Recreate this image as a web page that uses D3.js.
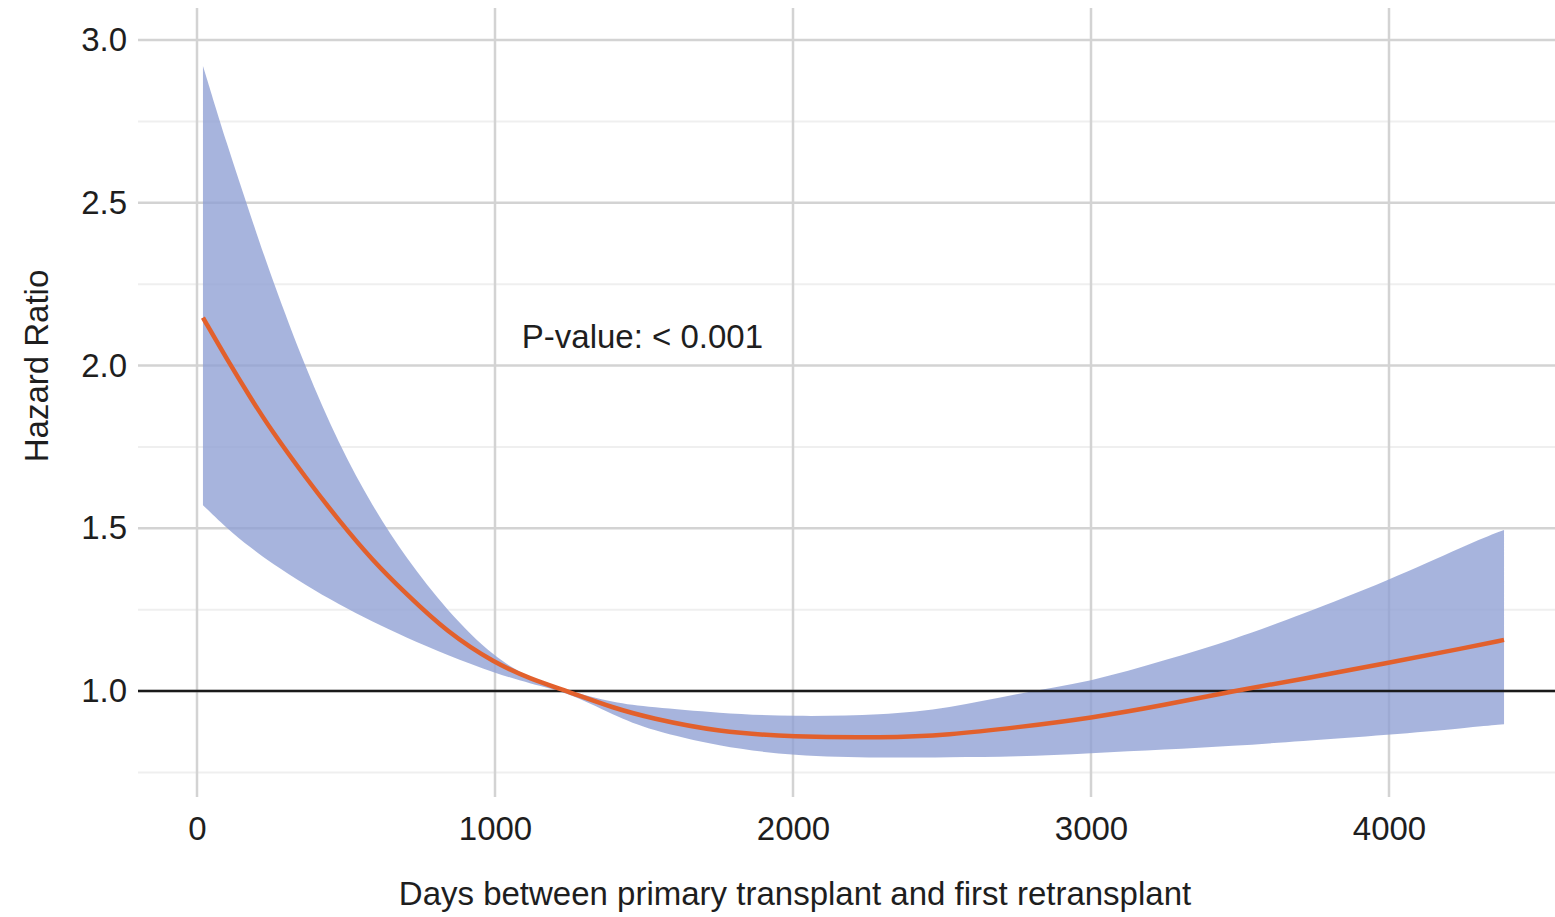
<!DOCTYPE html>
<html>
<head>
<meta charset="utf-8">
<script src="https://cdn.jsdelivr.net/npm/d3@7"></script>
<style>
  html, body { margin: 0; padding: 0; background: #fff; }
  text { font-family: "Liberation Sans", Arial, sans-serif; fill: #1e1e1e; }
</style>
</head>
<body>
<div id="chart"></div>
<script>
// days since primary transplant
var days    = [20, 100, 180, 250, 365, 475, 590, 700, 840, 1000, 1120, 1240, 1400, 1520, 1750, 2000, 2300, 2525, 2750, 3000, 3250, 3475, 3700, 4000, 4260, 4386];
var hrMean  = [2.147, 2.02, 1.90, 1.80, 1.655, 1.525, 1.40, 1.30, 1.18, 1.085, 1.037, 1.0, 0.947, 0.917, 0.874, 0.859, 0.856, 0.865, 0.888, 0.917, 0.957, 1.0, 1.035, 1.087, 1.133, 1.157];
var hrUpper = [2.92, 2.68, 2.46, 2.27, 1.99, 1.76, 1.565, 1.41, 1.245, 1.10, 1.04, 1.003, 0.963, 0.951, 0.932, 0.921, 0.926, 0.947, 0.993, 1.028, 1.095, 1.157, 1.233, 1.34, 1.449, 1.495];
var hrLower = [1.571, 1.50, 1.44, 1.393, 1.325, 1.267, 1.212, 1.165, 1.11, 1.055, 1.022, 0.997, 0.925, 0.88, 0.83, 0.80, 0.794, 0.797, 0.798, 0.809, 0.82, 0.831, 0.846, 0.865, 0.887, 0.898];

var xTicks = [0, 1000, 2000, 3000, 4000];
var yTicks = [1.0, 1.5, 2.0, 2.5, 3.0];
var yMinor = [0.75, 1.25, 1.75, 2.25, 2.75];
var refValue = 1.0;
var pLabel = "P-value: < 0.001";
var xTitle = "Days between primary transplant and first retransplant";
var yTitle = "Hazard Ratio";

var drawChart = function() {
    const width = 1555, height = 917;
    const left = 138, right = 1555, top = 8, bottom = 797;
    const fontSize = 33;

    var svg = d3.select("#chart").append("svg")
        .attr("width", width)
        .attr("height", height);

    var x = d3.scaleLinear().domain([0, 4000]).range([197, 1389]);
    var y = d3.scaleLinear().domain([1, 3]).range([691, 40]);

    var data = days.map(function(d, i) {
        return { day: d, mean: hrMean[i], lo: hrLower[i], hi: hrUpper[i] };
    });

    // minor grid
    svg.append("g").selectAll("line")
        .data(yMinor)
        .join("line")
        .attr("x1", left).attr("x2", right)
        .attr("y1", d => y(d)).attr("y2", d => y(d))
        .attr("stroke", "#efefef")
        .attr("stroke-width", 2);

    // major grid
    svg.append("g").selectAll("line")
        .data(yTicks)
        .join("line")
        .attr("x1", left).attr("x2", right)
        .attr("y1", d => y(d)).attr("y2", d => y(d))
        .attr("stroke", "#d3d3d3")
        .attr("stroke-width", 2.5);

    svg.append("g").selectAll("line")
        .data(xTicks)
        .join("line")
        .attr("x1", d => x(d)).attr("x2", d => x(d))
        .attr("y1", top).attr("y2", bottom)
        .attr("stroke", "#d3d3d3")
        .attr("stroke-width", 2.5);

    // confidence band
    var band = d3.area()
        .x(d => x(d.day))
        .y0(d => y(d.lo))
        .y1(d => y(d.hi))
        .curve(d3.curveBasis);

    svg.append("path")
        .datum(data)
        .attr("d", band)
        .attr("fill", "#8e9fd4")
        .attr("fill-opacity", 0.78);

    // reference line at HR = 1
    svg.append("line")
        .attr("x1", left).attr("x2", right)
        .attr("y1", y(refValue)).attr("y2", y(refValue))
        .attr("stroke", "#1a1a1a")
        .attr("stroke-width", 2.5);

    // fitted hazard ratio
    var line = d3.line()
        .x(d => x(d.day))
        .y(d => y(d.mean))
        .curve(d3.curveBasis);

    svg.append("path")
        .datum(data)
        .attr("d", line)
        .attr("fill", "none")
        .attr("stroke", "#e2602c")
        .attr("stroke-width", 4.5);

    // axes (labels only, no domain lines)
    var yAxis = svg.append("g")
        .attr("transform", "translate(" + left + ",0)")
        .call(d3.axisLeft(y).tickValues(yTicks).tickFormat(d3.format(".1f")).tickSize(0).tickPadding(11));
    var xAxis = svg.append("g")
        .attr("transform", "translate(0," + bottom + ")")
        .call(d3.axisBottom(x).tickValues(xTicks).tickFormat(d3.format("d")).tickSize(0).tickPadding(20));
    [xAxis, yAxis].forEach(function(g) {
        g.select(".domain").remove();
        g.selectAll("text")
            .attr("font-size", fontSize)
            .attr("font-family", "Liberation Sans, Arial, sans-serif")
            .attr("fill", "#1e1e1e");
    });

    // annotation
    svg.append("text")
        .attr("x", x(1090))
        .attr("y", y(2.055))
        .attr("font-size", fontSize)
        .text(pLabel);

    // axis titles
    svg.append("text")
        .attr("x", 795)
        .attr("y", 905)
        .attr("text-anchor", "middle")
        .attr("font-size", fontSize)
        .text(xTitle);

    svg.append("text")
        .attr("transform", "translate(48,366) rotate(-90)")
        .attr("text-anchor", "middle")
        .attr("font-size", fontSize)
        .text(yTitle);
}

window.addEventListener("load", drawChart)
</script>
</body>
</html>
